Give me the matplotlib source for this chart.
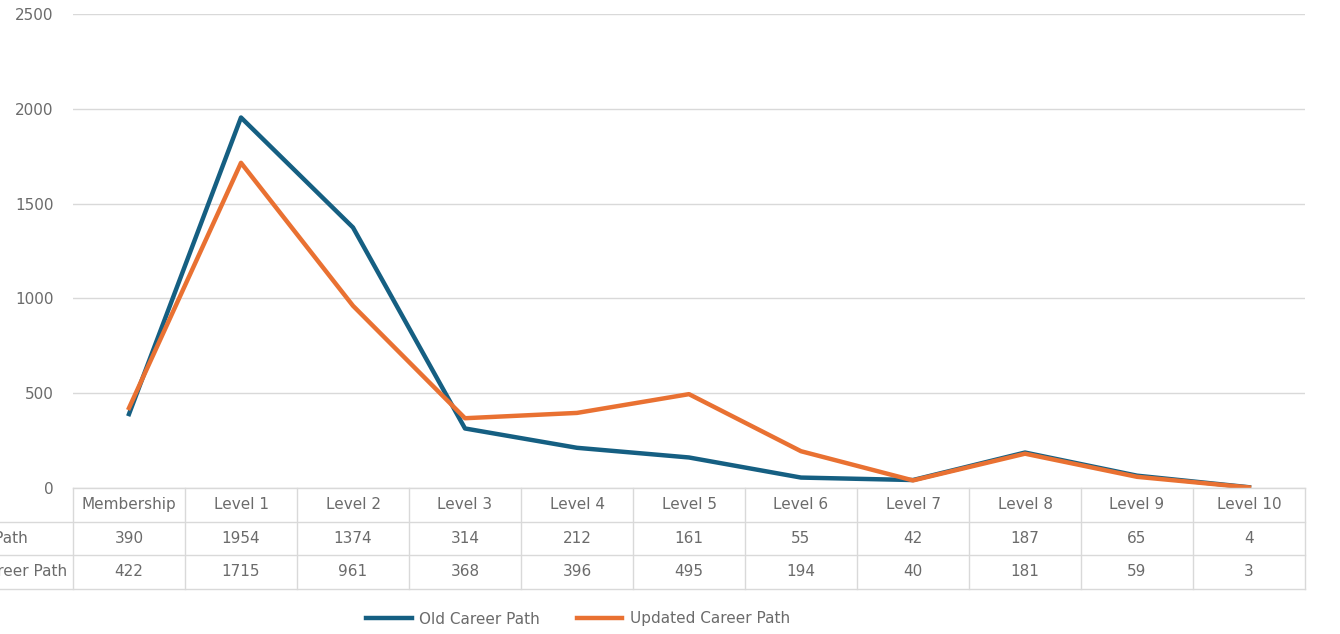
import matplotlib
matplotlib.use("Agg")
import matplotlib.pyplot as plt
from matplotlib.lines import Line2D
from matplotlib.transforms import blended_transform_factory

plt.rcParams['font.family'] = ['DejaVu Sans']

categories = ['Membership', 'Level 1', 'Level 2', 'Level 3', 'Level 4', 'Level 5',
              'Level 6', 'Level 7', 'Level 8', 'Level 9', 'Level 10']
old_path = [390, 1954, 1374, 314, 212, 161, 55, 42, 187, 65, 4]
new_path = [422, 1715, 961, 368, 396, 495, 194, 40, 181, 59, 3]
series_names = ['Old Career Path', 'Updated Career Path']

blue = '#155F82'
orange = '#E97132'
grey = '#6B6B6B'
gridc = '#D9D9D9'
fs = 11

W, H = 1340, 634
fig = plt.figure(figsize=(W / 100, H / 100), dpi=100)
ax = fig.add_axes([73 / W, 1 - 488 / H, (1305 - 73) / W, (488 - 14) / H])

x = list(range(len(categories)))
ax.plot(x, old_path, color=blue, lw=3.2, solid_joinstyle='round')
ax.plot(x, new_path, color=orange, lw=3.2, solid_joinstyle='round')

ax.set_xlim(-0.5, len(categories) - 0.5)
ax.set_ylim(0, 2500)
ax.set_yticks(range(0, 2501, 500))
ax.yaxis.grid(True, color=gridc, lw=1)
ax.set_axisbelow(True)
ax.set_xticks([])
ax.tick_params(axis='y', length=0, pad=14, labelcolor=grey, labelsize=fs)
for s in ax.spines.values():
    s.set_visible(False)

# data table below the plot
row_h = 33.5 / (488 - 14)
trans = ax.get_xaxis_transform()
n = len(categories)
ax.plot([-0.5, n - 0.5], [0, 0], transform=trans, color=gridc, lw=1, clip_on=False)
for r in (1, 2, 3):
    ax.plot([-2.0, n - 0.5], [-r * row_h, -r * row_h], transform=trans,
            color=gridc, lw=1, clip_on=False)
for i in range(n + 1):
    ax.plot([i - 0.5, i - 0.5], [0, -3 * row_h], transform=trans,
            color=gridc, lw=1, clip_on=False)

rows = [categories, old_path, new_path]
for r, vals in enumerate(rows):
    yc = -(r + 0.5) * row_h
    for i, v in enumerate(vals):
        ax.text(i, yc, str(v), transform=trans, ha='center', va='center',
                color=grey, fontsize=fs)

# row headers, left-aligned and cut off by the left edge of the picture
renderer = fig.canvas.get_renderer()
probe = fig.text(0, 0, series_names[0], fontsize=fs)
w_old = probe.get_window_extent(renderer).width
probe.remove()
x_left = (28 - w_old) / W
ht = blended_transform_factory(fig.transFigure, ax.transAxes)
for r, name in enumerate(series_names):
    yc = -(r + 1.5) * row_h
    fig.text(x_left, yc, name, transform=ht, ha='left', va='center',
             color=grey, fontsize=fs)

# legend
handles = [Line2D([], [], color=blue, lw=3.2), Line2D([], [], color=orange, lw=3.2)]
fig.legend(handles, series_names, loc='center', bbox_to_anchor=(578 / W, 1 - 619 / H),
           ncol=2, frameon=False, fontsize=fs, labelcolor=grey,
           handlelength=3.0, handletextpad=0.5, columnspacing=2.4)

fig.savefig('out.png', dpi=100)
